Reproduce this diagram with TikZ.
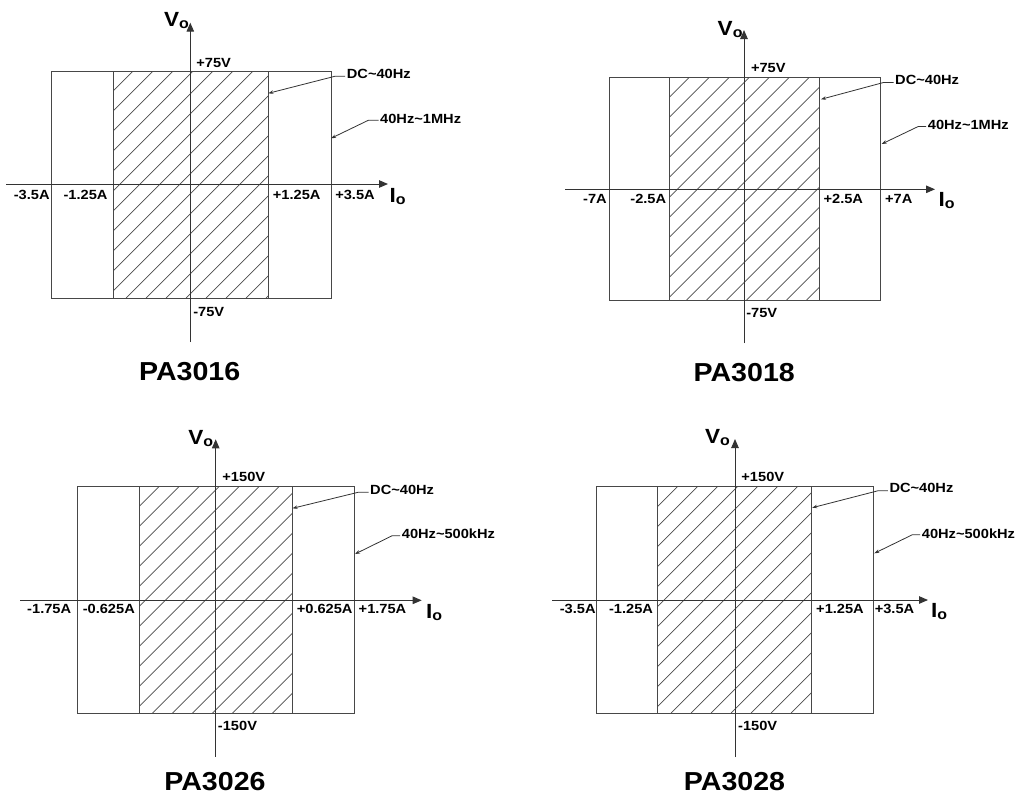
\documentclass[tikz,border=0pt]{standalone}
\usepackage{fontspec}
\setmainfont{Liberation Sans}[FakeStretch=1.1]
\usetikzlibrary{arrows.meta}
\tikzset{
  frame/.style={draw=black!72, line width=1pt},
  hatchline/.style={draw=black!70, line width=0.7pt},
  axis/.style={draw=black!80, line width=1pt, -{Triangle[length=9pt,width=7.5pt]}},
  leader/.style={draw=black!80, line width=0.8pt, -{Stealth[length=5pt,width=3.5pt]}},
  lbl/.style={font=\fontsize{13.3}{15}\selectfont\bfseries, inner sep=0pt},
  axlbl/.style={font=\fontsize{20.5}{22}\selectfont\bfseries, inner sep=0pt},
  ttl/.style={font=\fontsize{26}{30}\selectfont\bfseries, inner sep=0pt},
}
\newcommand\hatchrect[4]{%
  \begin{scope}
    \clip (#1,#2) rectangle (#3,#4);
    \foreach \k in {0,...,25}{\draw[hatchline] ({#1-(#4-#2)+20*\k},#4) -- ++({#4-#2},{-(#4-#2)});}
  \end{scope}}
\newcommand\subo{\raisebox{-2pt}{\fontsize{14.5}{16}\selectfont o}}
\begin{document}
\begin{tikzpicture}[x=1pt,y=-1pt]
\useasboundingbox[fill=white] (0,0) rectangle (1017,796);

% ---------------- Panel 1: PA3016 ----------------
\hatchrect{113}{71}{268}{298}
\draw[frame] (51,71) rectangle (331,298);
\draw[frame] (113,71) -- (113,298);
\draw[frame] (268,71) -- (268,298);
\coordinate (a1b) at (190.3,342); \coordinate (a1t) at (190.3,22.7);
\coordinate (a1l) at (6,184); \coordinate (a1r) at (388,184);
\draw[axis] (a1b) -- (a1t);
\draw[axis] (a1l) -- (a1r);
\node[axlbl, anchor=base east] (v1) at (189,26.7) {V\subo};
\node[axlbl, anchor=base west] (i1) at (389.3,202.3) {I\subo};
\node[lbl] (p1top) at (213.7,62.5) {+75V};
\node[lbl] (p1bot) at (208.7,312) {-75V};
\node[lbl] (p1a) at (31.7,195) {-3.5A};
\node[lbl] (p1b) at (85.5,195) {-1.25A};
\node[lbl] (p1c) at (296.7,195) {+1.25A};
\node[lbl] (p1d) at (355,195.3) {+3.5A};
\node[lbl, anchor=west] (dc1) at (346.7,73.7) {DC\char"7E 40Hz};
\node[lbl, anchor=west] (hf1) at (380,118.7) {40Hz\char"7E 1MHz};
\coordinate (dc1t) at (268.3,93.3);
\coordinate (hf1t) at (331,138.3);
\draw[leader] ([xshift=-1.5pt,yshift=-2.5pt]dc1.west) -- ++(-10,0) -- (dc1t);
\draw[leader] ([xshift=-1.5pt,yshift=-1.5pt]hf1.west) -- ++(-10,0) -- (hf1t);
\node[ttl] (t1) at (189.7,372) {PA3016};

% ---------------- Panel 2: PA3018 ----------------
\hatchrect{669}{77.7}{819.3}{300}
\draw[frame] (609,77.7) rectangle (880.7,300);
\draw[frame] (669,77.7) -- (669,300);
\draw[frame] (819.3,77.7) -- (819.3,300);
\coordinate (a2b) at (744,343); \coordinate (a2t) at (744,30);
\coordinate (a2l) at (565,189.3); \coordinate (a2r) at (935,189.3);
\draw[axis] (a2b) -- (a2t);
\draw[axis] (a2l) -- (a2r);
\node[axlbl, anchor=base east] (v2) at (742.7,35) {V\subo};
\node[axlbl, anchor=base west] (i2) at (938.3,206.7) {I\subo};
\node[lbl] (p2top) at (768.3,68.3) {+75V};
\node[lbl] (p2bot) at (761.7,313.3) {-75V};
\node[lbl] (p2a) at (595,199) {-7A};
\node[lbl] (p2b) at (648.3,199) {-2.5A};
\node[lbl] (p2c) at (843.3,199) {+2.5A};
\node[lbl] (p2d) at (898.7,199) {+7A};
\node[lbl, anchor=west] (dc2) at (895,80) {DC\char"7E 40Hz};
\node[lbl, anchor=west] (hf2) at (927.7,125) {40Hz\char"7E 1MHz};
\coordinate (dc2t) at (821,99.3);
\coordinate (hf2t) at (881.7,144);
\draw[leader] ([xshift=-1.5pt,yshift=-2.5pt]dc2.west) -- ++(-10,0) -- (dc2t);
\draw[leader] ([xshift=-1.5pt,yshift=-1.5pt]hf2.west) -- ++(-8,0) -- (hf2t);
\node[ttl] (t2) at (744.2,373) {PA3018};

% ---------------- Panel 3: PA3026 ----------------
\hatchrect{139}{486.7}{292}{713.3}
\draw[frame] (77.7,486.7) rectangle (354.3,713.3);
\draw[frame] (139,486.7) -- (139,713.3);
\draw[frame] (292,486.7) -- (292,713.3);
\coordinate (a3b) at (215.7,756.7); \coordinate (a3t) at (215.7,439.3);
\coordinate (a3l) at (20,600.3); \coordinate (a3r) at (421.7,600.3);
\draw[axis] (a3b) -- (a3t);
\draw[axis] (a3l) -- (a3r);
\node[axlbl, anchor=base east] (v3) at (213.3,444) {V\subo};
\node[axlbl, anchor=base west] (i3) at (426,618.3) {I\subo};
\node[lbl] (p3top) at (243.8,477.2) {+150V};
\node[lbl] (p3bot) at (237.5,726.2) {-150V};
\node[lbl] (p3a) at (49.2,608.8) {-1.75A};
\node[lbl] (p3b) at (108.8,608.8) {-0.625A};
\node[lbl] (p3c) at (324.7,608.8) {+0.625A};
\node[lbl] (p3d) at (382.5,608.8) {+1.75A};
\node[lbl, anchor=west] (dc3) at (370,489.7) {DC\char"7E 40Hz};
\node[lbl, anchor=west] (hf3) at (401.7,534.2) {40Hz\char"7E 500kHz};
\coordinate (dc3t) at (292.5,508.3);
\coordinate (hf3t) at (355,554);
\draw[leader] ([xshift=-1.5pt,yshift=-2.5pt]dc3.west) -- ++(-10,0) -- (dc3t);
\draw[leader] ([xshift=-1.5pt,yshift=-1.5pt]hf3.west) -- ++(-8,0) -- (hf3t);
\node[ttl] (t3) at (215,782) {PA3026};

% ---------------- Panel 4: PA3028 ----------------
\hatchrect{657.7}{486.3}{811.7}{713}
\draw[frame] (596.3,486.3) rectangle (873.7,713);
\draw[frame] (657.7,486.3) -- (657.7,713);
\draw[frame] (811.7,486.3) -- (811.7,713);
\coordinate (a4b) at (735,757); \coordinate (a4t) at (735,439);
\coordinate (a4l) at (552,600); \coordinate (a4r) at (928,600);
\draw[axis] (a4b) -- (a4t);
\draw[axis] (a4l) -- (a4r);
\node[axlbl, anchor=base east] (v4) at (730,443.3) {V\subo};
\node[axlbl, anchor=base west] (i4) at (931,617.3) {I\subo};
\node[lbl] (p4top) at (762.8,476.7) {+150V};
\node[lbl] (p4bot) at (757.7,726) {-150V};
\node[lbl] (p4a) at (577.7,609) {-3.5A};
\node[lbl] (p4b) at (631,609) {-1.25A};
\node[lbl] (p4c) at (840,609) {+1.25A};
\node[lbl] (p4d) at (894.5,609) {+3.5A};
\node[lbl, anchor=west] (dc4) at (889.3,488.3) {DC\char"7E 40Hz};
\node[lbl, anchor=west] (hf4) at (921.7,533.3) {40Hz\char"7E 500kHz};
\coordinate (dc4t) at (812.2,507.7);
\coordinate (hf4t) at (874.3,553.3);
\draw[leader] ([xshift=-1.5pt,yshift=-2.5pt]dc4.west) -- ++(-10,0) -- (dc4t);
\draw[leader] ([xshift=-1.5pt,yshift=-1.5pt]hf4.west) -- ++(-8,0) -- (hf4t);
\node[ttl] (t4) at (734.5,782) {PA3028};
\end{tikzpicture}
\end{document}
